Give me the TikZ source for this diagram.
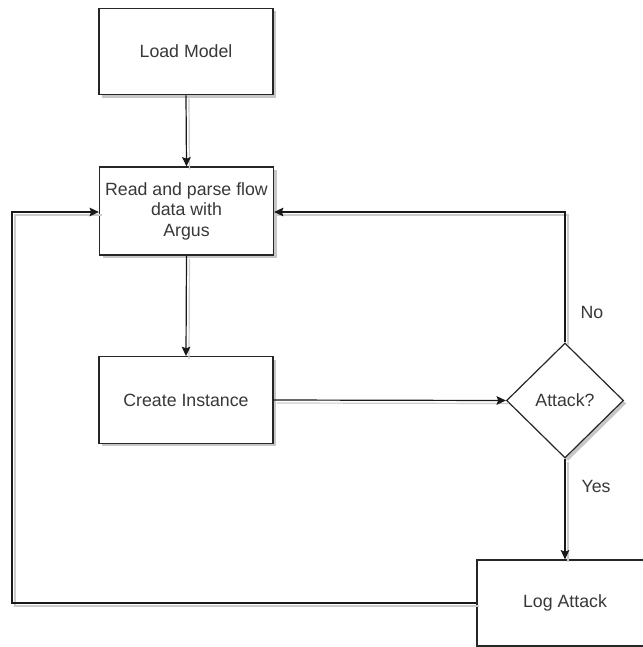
\documentclass[tikz,border=0pt]{standalone}
\usepackage{fontspec}
\setmainfont{Liberation Sans}
\usetikzlibrary{shapes.geometric,arrows.meta,shadows}
\begin{document}
\begin{tikzpicture}[x=0.75pt,y=-0.75pt,
  shad/.style={drop shadow={shadow xshift=2.25pt,shadow yshift=-2.25pt,fill=black!22,opacity=1}},
  boxnode/.style={draw=black!85,line width=0.9pt,fill=white,shad,minimum width=130.5pt,minimum height=65pt,inner sep=0pt,align=center,text=black!78,font=\fontsize{13.3}{15.4}\selectfont},
  decision/.style={diamond,aspect=1,draw=black!85,line width=0.9pt,fill=white,shad,minimum width=87.75pt,minimum height=86.25pt,inner sep=0pt,text=black!78,font=\fontsize{13.3}{15.4}\selectfont},
  lbl/.style={text=black!78,font=\fontsize{13.3}{15.4}\selectfont},
  conn/.style={line width=0.9pt,draw=black!90,-{Stealth[length=7pt,width=6.5pt,inset=1.2pt]},
    preaction={draw=black!20,line width=0.9pt,-,transform canvas={xshift=2.25pt,yshift=-2.25pt}}}
]
\useasboundingbox (0,0) rectangle (643,647);
\fill[white] (0,0) rectangle (643,647);

\node[boxnode] (load) at (186,51.5) {Load Model};
\node[boxnode,minimum height=66pt] (read) at (186.5,211) {Read and parse flow\\data with\\Argus};
\node[boxnode] (create) at (186,400) {Create Instance};
\node[decision] (dec) at (565,400.5) {Attack?};
\node[boxnode,minimum width=132pt,minimum height=64.5pt] (log) at (565,603) {Log Attack};

\coordinate (ll) at (12,603);
\coordinate (lu) at (12,212);
\coordinate (ru) at (565,212);

\draw[conn] (load.south) -- (read.north);
\draw[conn] (read.south) -- (create.north);
\draw[conn] (create.east) -- (dec.west);
\draw[conn] (dec.south) -- (log.north);
\draw[conn] (dec.north) -- (ru) -- (read.east |- ru);
\draw[conn] (log.west |- ll) -- (ll) -- (lu) -- (read.west |- lu);

\node[lbl] (no) at (592,312) {No};
\node[lbl] (yes) at (596,486) {Yes};
\end{tikzpicture}
\end{document}
